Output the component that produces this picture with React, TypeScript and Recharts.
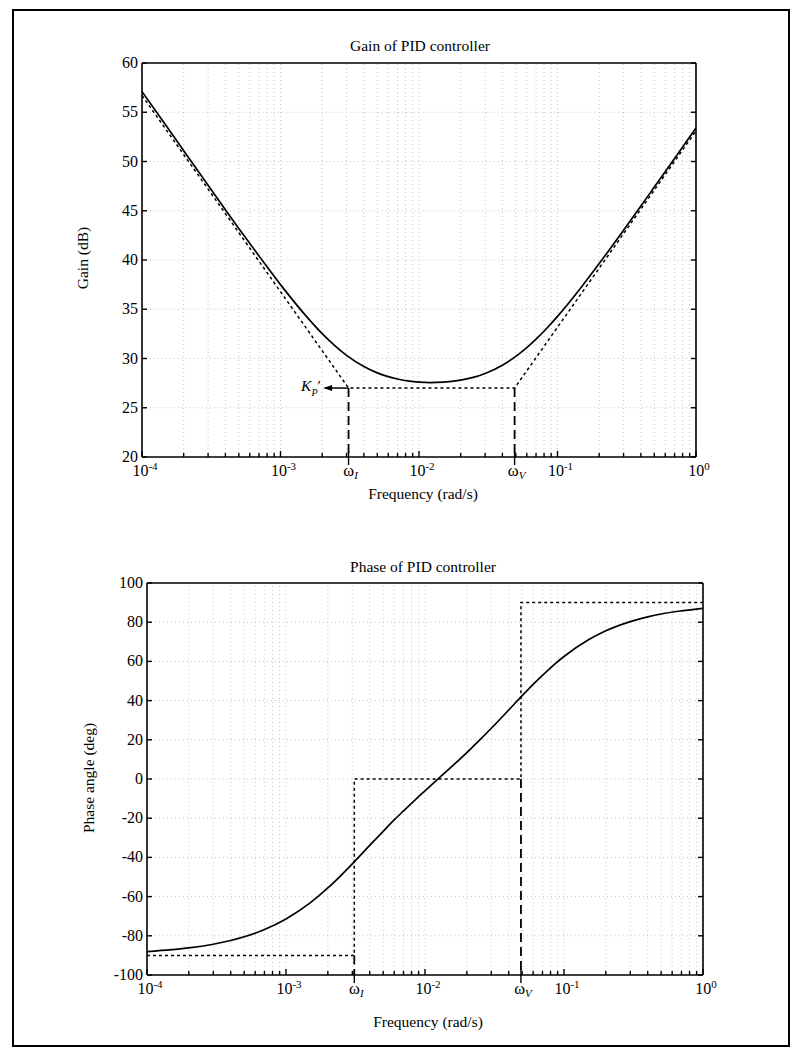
import React from "react";
import { Line, LineChart, ReferenceLine, XAxis, YAxis } from "recharts";

// Bode plots of a PID controller (gain + phase), log frequency axis.

const FONT = '"Liberation Serif", "Times New Roman", serif';

const W_I = 0.0031;
const W_V = 0.049;
const KP_DB = 27;

const freq = [
  1e-4, 1.5e-4, 2e-4, 3e-4, 4e-4, 5e-4, 7e-4, 1e-3, 1.5e-3, 2e-3, 2.5e-3,
  3e-3, 4e-3, 5e-3, 6e-3, 7e-3, 8.5e-3, 1e-2, 1.2e-2, 1.5e-2, 2e-2, 2.5e-2,
  3e-2, 4e-2, 5e-2, 6e-2, 7e-2, 8.5e-2, 1e-1, 1.5e-1, 2e-1, 3e-1, 4e-1, 5e-1,
  7e-1, 1,
];
const gainDb = [
  57.1, 53.6, 51.1, 47.6, 45.1, 43.2, 40.4, 37.5, 34.45, 32.52, 31.23, 30.32,
  29.18, 28.54, 28.16, 27.92, 27.71, 27.61, 27.56, 27.6, 27.81, 28.11, 28.48,
  29.32, 30.21, 31.1, 31.96, 33.17, 34.28, 37.32, 39.64, 43.03, 45.48, 47.4,
  50.3, 53.4,
];
const phaseDeg = [
  -88.1, -87.1, -86.2, -84.3, -82.4, -80.5, -76.8, -71.4, -63.1, -55.6, -49.0,
  -43.3, -33.9, -26.7, -20.9, -16.3, -10.6, -6.0, -0.9, 5.3, 13.5, 20.2, 25.9,
  35.2, 42.5, 48.3, 52.9, 58.4, 62.5, 71.0, 75.6, 80.3, 82.7, 84.2, 85.8, 87.1,
];

// straight-line (asymptotic) approximations
const gainAsymF = [1e-4, W_I, W_V, 1];
const gainAsymDb = [56.7, KP_DB, KP_DB, 53.1];
const phaseAsymF = [1e-4, W_I, W_I, W_V, W_V, 1];
const phaseAsymDeg = [-90, -90, 0, 0, 90, 90];

// Kp' pointer
const kpArrowF = [0.0021, W_I];

const MAJOR = [1e-4, 1e-3, 1e-2, 1e-1, 1];
const MAJOR_EXP = ["-4", "-3", "-2", "-1", "0"];
const MINOR = MAJOR.slice(0, 4).flatMap((d) =>
  [2, 3, 4, 5, 6, 7, 8, 9].map((m) => +(d * m).toPrecision(3))
);
const X_TICKS = [...MAJOR, ...MINOR].sort((a, b) => a - b);
const X_TICKS_BOTTOM = [...X_TICKS, W_I, W_V].sort((a, b) => a - b);
const X_GRID = X_TICKS.slice(1, -1);

const gainTicks = [20, 25, 30, 35, 40, 45, 50, 55, 60];
const phaseTicks = [-100, -80, -60, -40, -20, 0, 20, 40, 60, 80, 100];

const zip = (f: number[], v: number[]) => f.map((x, i) => ({ f: x, v: v[i] }));

function BottomTick({ x, y, payload }: any) {
  const v = payload.value;
  const mi = MAJOR.indexOf(v);
  const sub = v === W_I ? "I" : v === W_V ? "V" : null;
  return (
    <g>
      <line
        stroke="#000"
        strokeWidth={1.4}
        x1={x}
        x2={x}
        y1={sub ? y + 8 : y}
        y2={y - (mi >= 0 || sub ? 6 : 4)}
      />
      {mi >= 0 && (
        <text fill="#000" fontFamily={FONT} fontSize={16} textAnchor="middle" x={x + 3} y={y + 19}>
          10
          <tspan dy={-6} fontSize={11}>
            {MAJOR_EXP[mi]}
          </tspan>
        </text>
      )}
      {sub && (
        <text fill="#000" fontFamily={FONT} fontSize={16.5} textAnchor="middle" x={x + 2} y={y + 19}>
          ω
          <tspan dy={3} fontSize={11} fontStyle="italic">
            {sub}
          </tspan>
        </text>
      )}
    </g>
  );
}

function TopTick({ x, y, payload }: any) {
  const major = MAJOR.includes(payload.value);
  return <line stroke="#000" strokeWidth={1.4} x1={x} x2={x} y1={y} y2={y + (major ? 6 : 4)} />;
}

function LeftTick({ x, y, payload }: any) {
  return (
    <g>
      <line stroke="#000" strokeWidth={1.4} x1={x} x2={x + 5} y1={y} y2={y} />
      <text fill="#000" fontFamily={FONT} fontSize={16} textAnchor="end" x={x - 4} y={y + 5}>
        {payload.value}
      </text>
    </g>
  );
}

function RightTick({ x, y }: any) {
  return <line stroke="#000" strokeWidth={1.4} x1={x} x2={x - 5} y1={y} y2={y} />;
}

function ArrowDot(p: any) {
  if (p.index !== 0) return <g key={p.key} />;
  const { cx, cy } = p;
  return <path d={`M${cx - 2} ${cy} L${cx + 7} ${cy - 3} L${cx + 7} ${cy + 3} Z`} fill="#000" key={p.key} />;
}

function Bode({
  height,
  margin,
  domain,
  yTicks,
  curve,
  asym,
  markers,
  arrow,
}: {
  height: number;
  margin: { top: number; right: number; bottom: number; left: number };
  domain: [number, number];
  yTicks: number[];
  curve: { f: number; v: number }[];
  asym: { f: number; v: number }[];
  markers: { f: number; v: number }[][];
  arrow?: { f: number; v: number }[];
}) {
  return (
    <LineChart height={height} margin={margin} width={803}>
      <XAxis
        allowDataOverflow
        axisLine={{ stroke: "#000", strokeWidth: 1.6 }}
        dataKey="f"
        domain={[1e-4, 1]}
        height={40}
        interval={0}
        scale="log"
        tick={<BottomTick />}
        tickLine={false}
        tickMargin={0}
        tickSize={0}
        ticks={X_TICKS_BOTTOM}
        type="number"
      />
      <XAxis
        allowDataOverflow
        axisLine={{ stroke: "#000", strokeWidth: 1.6 }}
        domain={[1e-4, 1]}
        height={5}
        interval={0}
        orientation="top"
        scale="log"
        tick={<TopTick />}
        tickLine={false}
        tickMargin={0}
        tickSize={0}
        ticks={X_TICKS}
        type="number"
        xAxisId="top"
      />
      <YAxis
        allowDataOverflow
        axisLine={{ stroke: "#000", strokeWidth: 1.6 }}
        domain={domain}
        interval={0}
        tick={<LeftTick />}
        tickLine={false}
        tickMargin={0}
        tickSize={0}
        ticks={yTicks}
        type="number"
        width={40}
      />
      <YAxis
        allowDataOverflow
        axisLine={{ stroke: "#000", strokeWidth: 1.6 }}
        domain={domain}
        interval={0}
        orientation="right"
        tick={<RightTick />}
        tickLine={false}
        tickMargin={0}
        tickSize={0}
        ticks={yTicks}
        type="number"
        width={5}
        yAxisId="right"
      />
      {X_GRID.map((g) => (
        <ReferenceLine key={`gx${g}`} stroke="#c6c6c6" strokeDasharray="1 3" x={g} />
      ))}
      {yTicks.slice(1, -1).map((g) => (
        <ReferenceLine key={`gy${g}`} stroke="#c6c6c6" strokeDasharray="1 3" y={g} />
      ))}
      {markers.map((m, i) => (
        <Line
          data={m}
          dataKey="v"
          dot={false}
          isAnimationActive={false}
          key={`m${i}`}
          stroke="#000"
          strokeDasharray="9 5"
          strokeWidth={1.8}
        />
      ))}
      <Line
        data={asym}
        dataKey="v"
        dot={false}
        isAnimationActive={false}
        stroke="#000"
        strokeDasharray="3 3"
        strokeWidth={1.5}
      />
      {arrow && (
        <Line
          data={arrow}
          dataKey="v"
          dot={ArrowDot}
          isAnimationActive={false}
          stroke="#000"
          strokeWidth={1.5}
        />
      )}
      <Line
        data={curve}
        dataKey="v"
        dot={false}
        isAnimationActive={false}
        stroke="#000"
        strokeWidth={1.7}
        type="monotone"
      />
    </LineChart>
  );
}

function Txt({ text, x, y, rotate }: { text: React.ReactNode; x: number; y: number; rotate?: boolean }) {
  return (
    <div
      style={{
        position: "absolute",
        left: x,
        top: y,
        transform: `translate(-50%, -50%)${rotate ? " rotate(-90deg)" : ""}`,
        whiteSpace: "nowrap",
        fontFamily: FONT,
        fontSize: 15.5,
        color: "#000",
        lineHeight: 1,
      }}
    >
      {text}
    </div>
  );
}

export default function App() {
  return (
    <div style={{ position: "absolute", left: 0, top: 0, width: 803, height: 1052, background: "#fff" }}>
      <div
        style={{
          position: "absolute",
          left: 12,
          top: 9,
          width: 774,
          height: 1034,
          border: "2px solid #000",
        }}
      />
      <div style={{ position: "absolute", left: 0, top: 0 }}>
        <Bode
          arrow={zip(kpArrowF, [KP_DB, KP_DB])}
          asym={zip(gainAsymF, gainAsymDb)}
          curve={zip(freq, gainDb)}
          domain={[20, 60]}
          height={520}
          margin={{ top: 58, right: 102, bottom: 23, left: 102 }}
          markers={[
            zip([W_I, W_I], [KP_DB, 20]),
            zip([W_V, W_V], [KP_DB, 20]),
          ]}
          yTicks={gainTicks}
        />
      </div>
      <div style={{ position: "absolute", left: 0, top: 530 }}>
        <Bode
          asym={zip(phaseAsymF, phaseAsymDeg)}
          curve={zip(freq, phaseDeg)}
          domain={[-100, 100]}
          height={522}
          margin={{ top: 48, right: 95, bottom: 37, left: 107 }}
          markers={[
            zip([W_I, W_I], [-90, -100]),
            zip([W_V, W_V], [0, -100]),
          ]}
          yTicks={phaseTicks}
        />
      </div>
      <Txt text="Gain of PID controller" x={420} y={46} />
      <Txt text="Frequency (rad/s)" x={423} y={494} />
      <Txt rotate text="Gain (dB)" x={83} y={258} />
      <Txt text="Phase of PID controller" x={423} y={567} />
      <Txt text="Frequency (rad/s)" x={428} y={1022} />
      <Txt rotate text="Phase angle (deg)" x={89} y={778} />
      <Txt
        text={
          <span>
            <i>K</i>
            <sub style={{ fontSize: 10, fontStyle: "italic" }}>P</sub>′
          </span>
        }
        x={311}
        y={388}
      />
    </div>
  );
}
